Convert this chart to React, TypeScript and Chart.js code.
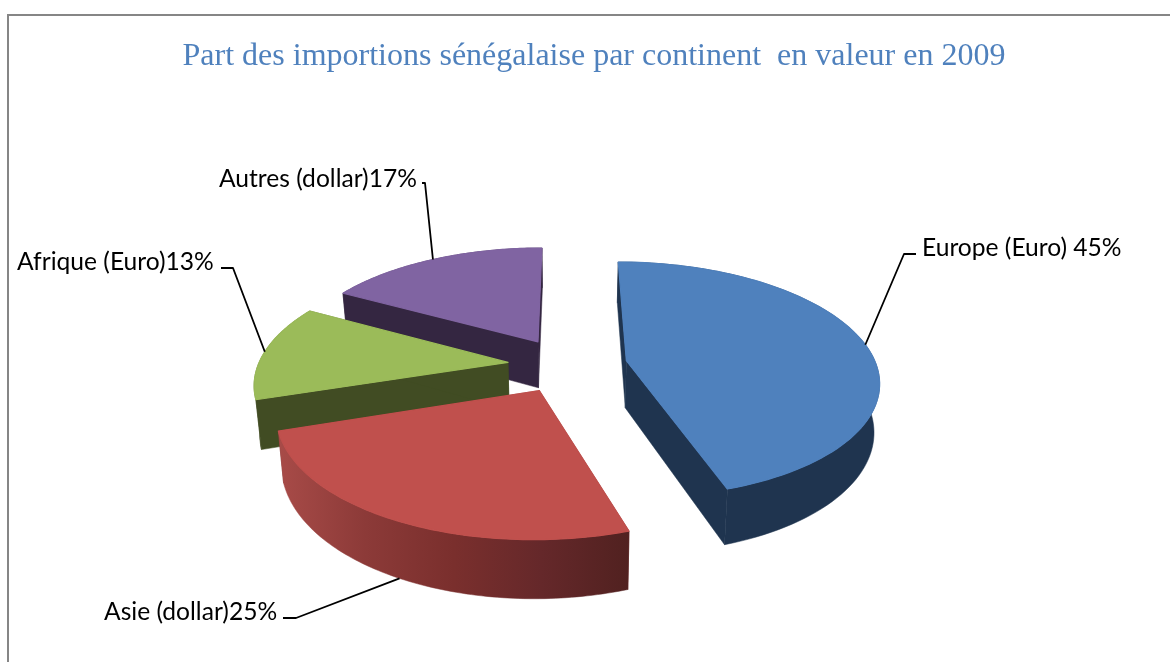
import React, { useEffect, useRef } from "react";
import { Chart, registerables } from "chart.js";

Chart.register(...registerables);

const categories = ["Europe (Euro)", "Asie (dollar)", "Afrique (Euro)", "Autres (dollar)"];
const shares = [45, 25, 13, 17];
const separators = [" ", "", "", ""];
const titleText = "Part des importions sénégalaise par continent  en valeur en 2009";

const topColors = ["#4F81BD", "#C0504D", "#9BBB59", "#8064A2"];
const wallColors = ["#1F344F", "#7A2F2D", "#414C23", "#342641"];
const rimStops: string[][] = [
  ["#1F344F", "#1F344F"],
  ["#A84B48", "#8C3A38", "#7A2F2D", "#65282A", "#512120"],
  ["#414C23", "#414C23"],
  ["#342641", "#342641"],
];
const explodes = [48, 48, 48, 48];
const leaderFractions = [0.505, 0.5, 0.5, 0.5];

// perspective of the disc
const VIEW = { ox: 567.5, oy: 365, rx: 249.8, ry: 115.8, persp: 0.161, depth: 47.5, converge: 0.018, unit: 200 };

// label placement: text position and leader elbow
const labelLayout = [
  { x: 922, y: 248, elbowA: [916, 254], elbowB: [904, 254] },
  { x: 104, y: 612, elbowA: [283, 618], elbowB: [296, 618] },
  { x: 17, y: 262, elbowA: [221, 268], elbowB: [233, 268] },
  { x: 219, y: 179, elbowA: [422, 183], elbowB: [425, 183] },
];

const project = (wx: number, wy: number, lowered = false): [number, number] => {
  const w = 1 - VIEW.persp * wy;
  let x = VIEW.ox + (VIEW.rx * wx) / w;
  let y = VIEW.oy + (VIEW.ry * wy) / w;
  if (lowered) {
    x = VIEW.ox + (x - VIEW.ox) * (1 - VIEW.converge);
    y += VIEW.depth / w;
  }
  return [x, y];
};

const pie3d = {
  id: "pie3d",
  beforeDatasetsDraw(chart: any) {
    const ctx: CanvasRenderingContext2D = chart.ctx;
    const meta = chart.getDatasetMeta(0);

    // frame
    ctx.save();
    ctx.strokeStyle = "#868686";
    ctx.lineWidth = 2;
    ctx.beginPath();
    ctx.moveTo(8, 662);
    ctx.lineTo(8, 15);
    ctx.lineTo(1170, 15);
    ctx.stroke();
    ctx.restore();

    const slices = meta.data.map((el: any, i: number) => {
      const t0 = el.startAngle + Math.PI / 2;
      const t1 = el.endAngle + Math.PI / 2;
      const mid = (t0 + t1) / 2;
      const e = el.options.offset / VIEW.unit;
      return { i, el, t0, t1, ex: e * Math.sin(mid), ey: -e * Math.cos(mid) };
    });
    const point = (s: any, t: number, lowered = false) =>
      project(s.ex + Math.sin(t), s.ey - Math.cos(t), lowered);
    const centre = (s: any, lowered = false) => project(s.ex, s.ey, lowered);

    const poly = (pts: [number, number][], fill: any, edgeWidth = 0.5) => {
      ctx.beginPath();
      pts.forEach((p, k) => (k ? ctx.lineTo(p[0], p[1]) : ctx.moveTo(p[0], p[1])));
      ctx.closePath();
      ctx.fillStyle = fill;
      ctx.strokeStyle = fill;
      ctx.lineWidth = edgeWidth;
      ctx.lineJoin = "round";
      ctx.fill();
      ctx.stroke();
    };

    const order = [...slices].sort((a, b) => a.ey - b.ey);
    for (const s of order) {
      const steps = 90;
      const edge: [number, number][] = [];
      const edgeLow: [number, number][] = [];
      for (let k = 0; k <= steps; k++) {
        const t = s.t0 + ((s.t1 - s.t0) * k) / steps;
        edge.push(point(s, t));
        edgeLow.push(point(s, t, true));
      }
      const wall = wallColors[s.i];
      poly([centre(s), edge[0], edgeLow[0], centre(s, true)], wall);
      poly([centre(s), edge[steps], edgeLow[steps], centre(s, true)], wall);

      const xs = edge.map((p) => p[0]);
      const x0 = Math.min(...xs);
      const x1 = Math.max(...xs);
      const grad = ctx.createLinearGradient(x0, 0, x1, 0);
      rimStops[s.i].forEach((c, k, arr) => grad.addColorStop(k / (arr.length - 1), c));
      poly([...edge, ...[...edgeLow].reverse()], grad);

      poly([centre(s), ...edge], s.el.options.backgroundColor, 1.2);
    }

    // labels and leaders
    ctx.save();
    ctx.font = '24.6px Lato, "Open Sans", sans-serif';
    ctx.textBaseline = "middle";
    ctx.textAlign = "left";
    ctx.fillStyle = "#000";
    slices.forEach((s: any) => {
      const layout = labelLayout[s.i];
      ctx.fillText(`${categories[s.i]}${separators[s.i]}${shares[s.i]}%`, layout.x, layout.y);
      const t = s.t0 + (s.t1 - s.t0) * leaderFractions[s.i];
      const front = s.ey - Math.cos(t) > 0.5;
      const end = point(s, t, front);
      ctx.strokeStyle = "#000";
      ctx.lineWidth = 1.8;
      ctx.beginPath();
      ctx.moveTo(layout.elbowA[0], layout.elbowA[1]);
      ctx.lineTo(layout.elbowB[0], layout.elbowB[1]);
      ctx.lineTo(end[0], end[1]);
      ctx.stroke();
    });
    ctx.restore();
    return false;
  },
};

export default function App() {
  const ref = useRef<HTMLCanvasElement | null>(null);
  useEffect(() => {
    const chart = new Chart(ref.current as HTMLCanvasElement, {
      type: "pie",
      data: {
        labels: categories,
        datasets: [
          {
            data: shares,
            backgroundColor: topColors,
            borderWidth: 0,
            offset: explodes,
          },
        ],
      },
      options: {
        responsive: false,
        animation: false,
        events: [],
        layout: { padding: { left: 18, top: 37, right: 0, bottom: 0 } },
        plugins: {
          legend: { display: false },
          tooltip: { enabled: false },
          title: {
            display: true,
            text: titleText,
            color: "#4F81BD",
            font: { family: '"Liberation Serif", serif', size: 32, weight: "normal" },
            padding: 0,
          },
        },
      },
      plugins: [pie3d],
    } as any);
    return () => chart.destroy();
  }, []);
  return (
    <div style={{ position: "fixed", left: 0, top: 0, width: 1170, height: 662, background: "#fff" }}>
      <canvas ref={ref} width={1170} height={662} style={{ display: "block" }} />
    </div>
  );
}
